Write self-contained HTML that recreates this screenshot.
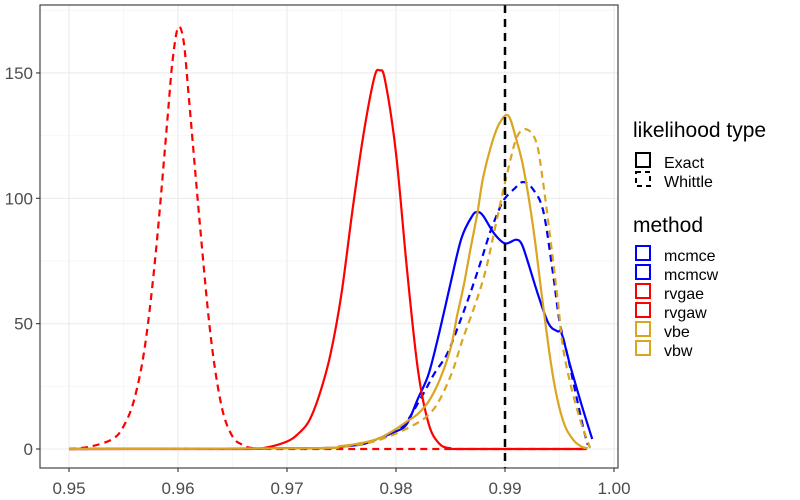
<!DOCTYPE html>
<html><head><meta charset="utf-8"><style>
body{margin:0;background:#fff;}
svg{display:block;font-family:"Liberation Sans",Arial,sans-serif;}
</style></head><body>
<svg id="chart" width="800" height="500"></svg>
<script>
const xTicks=[0.95,0.96,0.97,0.98,0.99,1.00];
const xTickLabels=["0.95","0.96","0.97","0.98","0.99","1.00"];
const yTicks=[0,50,100,150];
const yTickLabels=["0","50","100","150"];
const trueValue=0.99;
const mcmceX=[0.95,0.972,0.975,0.977,0.9785,0.980,0.981,0.982,0.983,0.984,0.985,0.986,0.987,0.9875,0.988,0.989,0.990,0.991,0.9915,0.992,0.993,0.994,0.9948,0.9952,0.996,0.997,0.998];
const mcmceY=[0,0.3,1,2,4.4,7,10,20,30,47,66,84,93,94.5,93,86,82,83.5,82,76,62,50,47,46,33,18,4];
const mcmcwX=[0.95,0.972,0.975,0.9785,0.980,0.981,0.9825,0.9835,0.9847,0.9858,0.9868,0.9878,0.9886,0.9895,0.990,0.9909,0.99165,0.9925,0.9935,0.9944,0.995,0.9957,0.9966,0.9972,0.9976];
const mcmcwY=[0,0.3,1,4,7,11,22,30,38,50,62,75,86,96,100,104,106.5,104,95,70,51,38,20,8,1.6];
const rvgaeX=[0.95,0.966,0.968,0.970,0.971,0.972,0.973,0.974,0.975,0.976,0.977,0.978,0.9785,0.979,0.980,0.981,0.982,0.983,0.984,0.985,0.986,0.9975];
const rvgaeY=[0,0,0.5,3,6,11,22,38,62,95,125,148,151,147,118,72,32,10,2,0.3,0,0];
const rvgawX=[0.950,0.952,0.954,0.955,0.956,0.957,0.958,0.959,0.9595,0.960,0.9605,0.961,0.962,0.963,0.964,0.965,0.966,0.967,0.970,0.9975];
const rvgawY=[0,1,4,9,20,42,80,130,155,168,163,140,90,45,17,5,1.5,0.3,0,0];
const vbeX=[0.95,0.972,0.975,0.977,0.9785,0.980,0.981,0.982,0.983,0.984,0.985,0.9856,0.9862,0.9868,0.9875,0.988,0.9888,0.9895,0.9903,0.991,0.9917,0.9926,0.9935,0.9944,0.9953,0.9962,0.997,0.9976];
const vbeY=[0,0.3,1.2,2.5,4.4,8,11,14,19,27.5,40,53,65,79,95,108.5,122,130,133,124,112,88,57,29,11.6,4,1,0.3];
const vbwX=[0.95,0.972,0.975,0.978,0.9813,0.9834,0.985,0.9861,0.9874,0.9883,0.9893,0.9902,0.9911,0.9920,0.9929,0.9935,0.9941,0.9948,0.9953,0.996,0.9969,0.9978];
const vbwY=[0,0.3,1,3,8.8,15.6,29,43.5,59.4,72.6,92.5,110,124.5,127.5,122,106,86,61,41,26,11.6,0.4];

const svg=document.getElementById('chart');
const NS='http://www.w3.org/2000/svg';
const P={l:40,r:618,t:5,b:468};
const xs=v=>69+(v-0.95)*10900;
const ys=v=>449-v*2.507;
function mk(tag,attrs,parent){const e=document.createElementNS(NS,tag);for(const k in attrs)e.setAttribute(k,attrs[k]);(parent||svg).appendChild(e);return e;}

const grid=mk('g',{});


for(let i=0;i<xTicks.length;i++){
  const v=xTicks[i];
  mk('line',{x1:xs(v),x2:xs(v),y1:P.t,y2:P.b,stroke:'#ebebeb','stroke-width':1.1},grid);
  if(i<xTicks.length-1){const m=(v+xTicks[i+1])/2;mk('line',{x1:xs(m),x2:xs(m),y1:P.t,y2:P.b,stroke:'#f2f2f2','stroke-width':0.6},grid);}
}
for(let i=0;i<yTicks.length;i++){
  const v=yTicks[i];
  mk('line',{x1:P.l,x2:P.r,y1:ys(v),y2:ys(v),stroke:'#ebebeb','stroke-width':1.1},grid);
  mk('line',{x1:P.l,x2:P.r,y1:ys(v+25),y2:ys(v+25),stroke:'#f2f2f2','stroke-width':0.6},grid);
}

function curve(X,Y,color,dash,name){
  const pts=X.map((x,i)=>[xs(x),ys(Y[i])]);
  let d='M'+pts[0][0].toFixed(1)+','+pts[0][1].toFixed(1);
  for(let i=0;i<pts.length-1;i++){
    const p0=pts[Math.max(0,i-1)],p1=pts[i],p2=pts[i+1],p3=pts[Math.min(pts.length-1,i+2)];
    const c1=[p1[0]+(p2[0]-p0[0])/6,p1[1]+(p2[1]-p0[1])/6];
    const c2=[p2[0]-(p3[0]-p1[0])/6,p2[1]-(p3[1]-p1[1])/6];
    c1[1]=Math.min(c1[1],449);c2[1]=Math.min(c2[1],449);
    d+='C'+c1[0].toFixed(1)+','+c1[1].toFixed(1)+' '+c2[0].toFixed(1)+','+c2[1].toFixed(1)+' '+p2[0].toFixed(1)+','+p2[1].toFixed(1);
  }
  const p=mk('path',{d:d,fill:'none',stroke:color,'stroke-width':2.2,'stroke-linejoin':'round'});
  if(dash)p.setAttribute('stroke-dasharray','7 5');
  
  
}
curve(mcmceX,mcmceY,'#0000ff',false,'curve-mcmce');
curve(mcmcwX,mcmcwY,'#0000ff',true,'curve-mcmcw');
curve(rvgaeX,rvgaeY,'#ff0000',false,'curve-rvgae');
curve(rvgawX,rvgawY,'#ff0000',true,'curve-rvgaw');
curve(vbeX,vbeY,'#daa520',false,'curve-vbe');
curve(vbwX,vbwY,'#daa520',true,'curve-vbw');

const vl=mk('line',{x1:xs(trueValue),x2:xs(trueValue),y1:P.t,y2:P.b,stroke:'#000','stroke-width':2.5,'stroke-dasharray':'8 6'});



const border=mk('rect',{x:P.l,y:P.t,width:P.r-P.l,height:P.b-P.t,fill:'none',stroke:'#333','stroke-width':1.1});



for(let i=0;i<xTicks.length;i++){
  const x=xs(xTicks[i]);
  mk('line',{x1:x,x2:x,y1:P.b,y2:P.b+4,stroke:'#333','stroke-width':1.1});
  const t=mk('text',{x:x,y:494,'text-anchor':'middle','font-size':17,fill:'#4d4d4d'});
  t.textContent=xTickLabels[i];
  
  
}
for(let i=0;i<yTicks.length;i++){
  const y=ys(yTicks[i]);
  mk('line',{x1:P.l-4,x2:P.l,y1:y,y2:y,stroke:'#333','stroke-width':1.1});
  const t=mk('text',{x:33,y:y+6,'text-anchor':'end','font-size':17,fill:'#4d4d4d'});
  t.textContent=yTickLabels[i];
  
  
}
</script>
<svg style="position:absolute;left:0;top:0" width="800" height="500">
  <g font-family="Liberation Sans, Arial, sans-serif" fill="#000">
    <text x="633" y="137" font-size="21">likelihood type</text>
    <rect x="636" y="153" width="14" height="14" fill="none" stroke="#000" stroke-width="2"/>
    <text x="664" y="168" font-size="16">Exact</text>
    <rect x="636" y="172" width="14" height="14" fill="none" stroke="#000" stroke-width="2" stroke-dasharray="5 4"/>
    <text x="664" y="187" font-size="16">Whittle</text>
    <text x="633" y="232" font-size="21">method</text>
    <rect x="636" y="246" width="14" height="14" fill="none" stroke="#0000ff" stroke-width="2"/>
    <text x="664" y="261" font-size="16">mcmce</text>
    <rect x="636" y="265" width="14" height="14" fill="none" stroke="#0000ff" stroke-width="2"/>
    <text x="664" y="280" font-size="16">mcmcw</text>
    <rect x="636" y="284" width="14" height="14" fill="none" stroke="#ff0000" stroke-width="2"/>
    <text x="664" y="299" font-size="16">rvgae</text>
    <rect x="636" y="303" width="14" height="14" fill="none" stroke="#ff0000" stroke-width="2"/>
    <text x="664" y="318" font-size="16">rvgaw</text>
    <rect x="636" y="322" width="14" height="14" fill="none" stroke="#daa520" stroke-width="2"/>
    <text x="664" y="337" font-size="16">vbe</text>
    <rect x="636" y="341" width="14" height="14" fill="none" stroke="#daa520" stroke-width="2"/>
    <text x="664" y="356" font-size="16">vbw</text>
  </g>
</svg>
</body></html>
